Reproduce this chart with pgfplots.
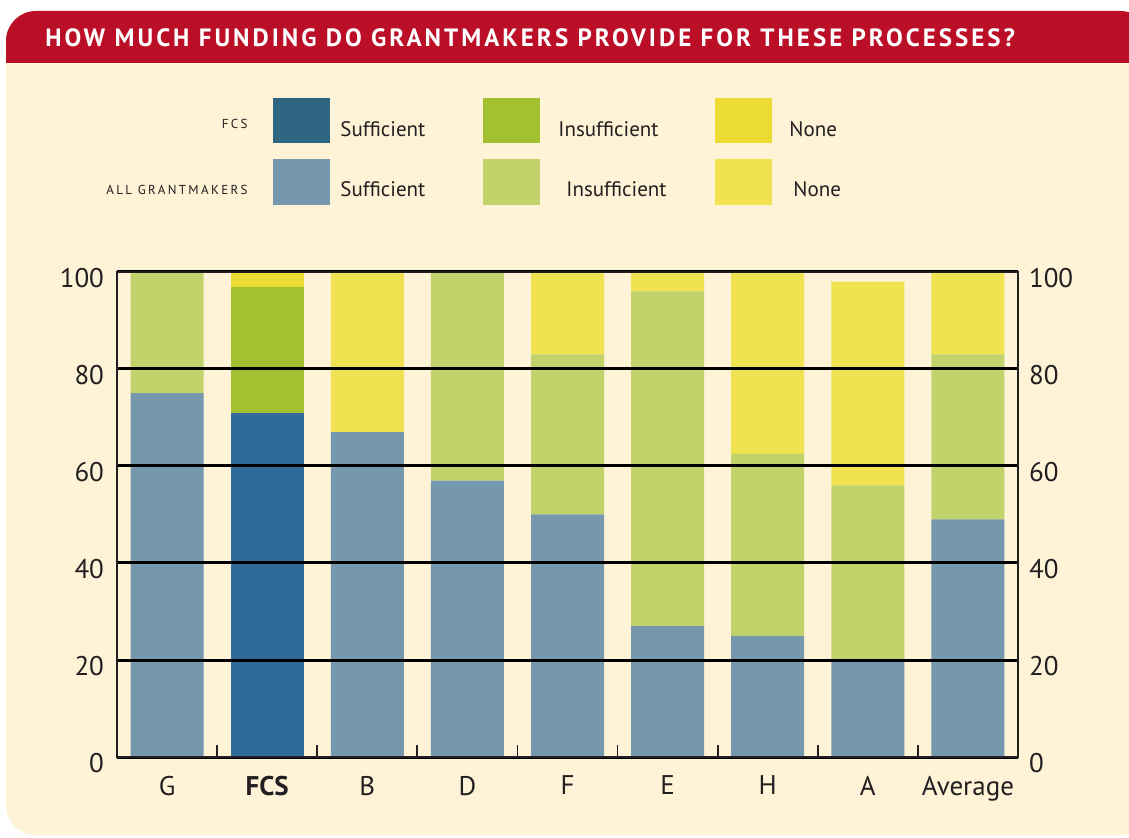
\documentclass[border=0pt]{standalone}
\usepackage{pgfplots}
\pgfplotsset{compat=1.18}
\usepackage{fontspec}
\setmainfont{PT Sans}
\definecolor{hdr}{HTML}{BB0F27}
\definecolor{cream}{HTML}{FEF2D7}
\definecolor{txt}{HTML}{231F20}
\definecolor{fcsS}{HTML}{306A98}
\definecolor{fcsSkey}{HTML}{2E6580}
\definecolor{fcsI}{HTML}{A3C030}
\definecolor{fcsN}{HTML}{ECDB33}
\definecolor{allS}{HTML}{7598AE}
\definecolor{allI}{HTML}{C3D36C}
\definecolor{allN}{HTML}{F0E251}

% stacked shares, categories at 0..8 (G, FCS, B, D, F, E, H, A, Average)
\pgfplotstableread{
x allS fcsS allI fcsI allN fcsN
0 75 0  25 0  0    0
1 0  71 0  26 0    3
2 67 0  0  0  33   0
3 57 0  43 0  0    0
4 50 0  33 0  17   0
5 27 0  69 0  4    0
6 25 0  37.5 0 37.5 0
7 20 0  36 0  42   0
8 49 0  34 0  17   0
}\funding

\begin{document}
\begin{tikzpicture}
\useasboundingbox (0,0) rectangle (564.5pt,-419pt);
\fill[white] (0,0) rectangle (564.5pt,-419pt);
% panel
\fill[cream, rounded corners=15pt] (3pt,-5.5pt) rectangle (575pt,-417.5pt);
\fill[hdr] (3pt,-31.5pt) [rounded corners=15pt] -- (3pt,-5.5pt) -- (575pt,-5.5pt) [sharp corners] -- (575pt,-31.5pt) -- cycle;
\node[anchor=base west, text=white, inner sep=0pt,
  font=\fontsize{12.5}{12.5}\selectfont\bfseries\addfontfeatures{LetterSpace=12}]
  at (22.5pt,-23.5pt) {HOW MUCH FUNDING DO GRANTMAKERS PROVIDE FOR THESE PROCESSES?};

% key
\fill[fcsSkey] (136.5pt,-49pt) rectangle (165pt,-71.5pt);
\fill[fcsI] (241.5pt,-49pt) rectangle (270pt,-71.5pt);
\fill[fcsN] (357.5pt,-49pt) rectangle (386pt,-71.5pt);
\fill[allS] (136.5pt,-79.5pt) rectangle (165pt,-102.5pt);
\fill[allI] (241.5pt,-79.5pt) rectangle (270pt,-102.5pt);
\fill[allN] (357.5pt,-79.5pt) rectangle (386pt,-102.5pt);
\begin{scope}[every node/.style={inner sep=0pt, text=txt, font=\fontsize{10.5}{10.5}\selectfont}]
\node[anchor=west] at (170pt,-64.5pt) {Sufficient};
\node[anchor=west] at (279pt,-64.5pt) {Insufficient};
\node[anchor=west] at (394.5pt,-64.5pt) {None};
\node[anchor=west] at (170pt,-94.5pt) {Sufficient};
\node[anchor=west] at (283pt,-94.5pt) {Insufficient};
\node[anchor=west] at (396.5pt,-94.5pt) {None};
\node[anchor=east, font=\fontsize{6.5}{6.5}\selectfont\addfontfeatures{LetterSpace=18}] at (124pt,-62pt) {FCS};
\node[anchor=east, font=\fontsize{6.5}{6.5}\selectfont\addfontfeatures{LetterSpace=18}] at (124pt,-95pt) {ALL GRANTMAKERS};
\end{scope}

\begin{axis}[
  at={(58.5pt,-378.5pt)}, anchor=south west,
  scale only axis, width=450.5pt, height=242.5pt,
  xmin=-0.5, xmax=8.5, ymin=0, ymax=100,
  ybar stacked, bar width=36.5pt,
  axis on top,
  axis line style={txt, line width=1.2pt},
  xtick={0,...,8},
  xticklabels={G,\textbf{FCS},B,D,F,E,H,A,Average},
  minor xtick={0.5,1.5,...,7.5},
  major x tick style={draw=none},
  minor x tick style={txt, line width=0.9pt},
  minor tick length=6pt,
  xtick align=inside, xtick pos=bottom,
  ytick={0,20,...,100}, ytick pos=left,
  major y tick style={draw=none},
  ymajorgrids, grid style={black, line width=1.5pt},
  tick label style={text=txt, font=\fontsize{13.5}{13.5}\selectfont},
  /pgf/number format/assume math mode=true,
  yticklabel style={yshift=-3pt, xshift=-3pt},
  xticklabel style={yshift=-6pt},
  every outer x axis line/.append style={line width=2pt},
]
\addplot[fill=allS, draw=none] table[x=x, y=allS] {\funding};
\addplot[fill=fcsS, draw=none] table[x=x, y=fcsS] {\funding};
\addplot[fill=allI, draw=none] table[x=x, y=allI] {\funding};
\addplot[fill=fcsI, draw=none] table[x=x, y=fcsI] {\funding};
\addplot[fill=allN, draw=none] table[x=x, y=allN] {\funding};
\addplot[fill=fcsN, draw=none] table[x=x, y=fcsN] {\funding};
\end{axis}

\begin{axis}[
  at={(58.5pt,-378.5pt)}, anchor=south west,
  scale only axis, width=450.5pt, height=242.5pt,
  xmin=-0.5, xmax=8.5, ymin=0, ymax=100,
  axis y line*=right, axis x line=none,
  axis line style={txt, line width=1.2pt},
  ytick={0,20,...,100},
  major y tick style={draw=none},
  tick label style={text=txt, font=\fontsize{13.5}{13.5}\selectfont},
  /pgf/number format/assume math mode=true,
  yticklabel style={yshift=-3pt, xshift=2pt},
]
\addplot[draw=none] coordinates {(0,0)};
\end{axis}
\end{tikzpicture}
\end{document}
